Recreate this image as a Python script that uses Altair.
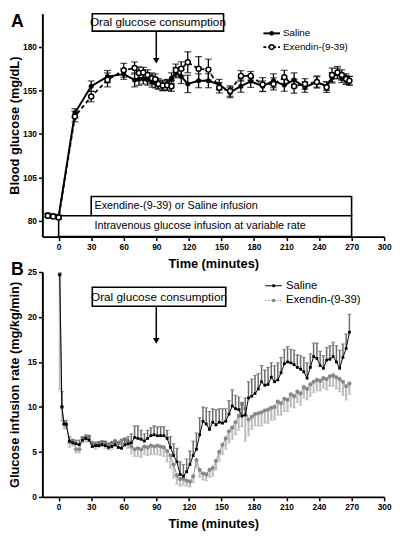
import altair as alt
import pandas as pd

FONT = "Liberation Sans"

# ---------------- Panel A: blood glucose ----------------
a_time = [-10, -5, 0, 15, 30, 45, 60, 70, 74, 78, 82, 86, 89, 92, 96, 100, 104, 108, 113, 119,
          129, 138, 148, 158, 168, 177, 188, 198, 208, 217, 227, 238, 247, 252, 257, 261, 265, 268]
a_saline = [83.5, 83, 82.5, 142, 157.4, 162.9, 164.3, 161, 161.4, 161.6, 161, 159.8, 159.4, 158.3,
            157.4, 158.3, 162, 165.2, 162.9, 158.7, 160.5, 160.5, 158.3, 153.8, 157.4, 160.2, 157.4,
            160.5, 158, 161, 156.8, 159.8, 157.4, 162.2, 164.7, 162, 161, 160.5]
a_saline_sem = [1, 1, 1, 2.5, 3, 3.5, 3, 4, 3.5, 3, 3, 3, 3, 2.5, 2.5, 3, 3, 3, 4, 5, 4, 4, 3, 3,
                3.5, 3.5, 3, 4, 3.5, 4, 3, 3.5, 2.5, 3, 3, 2.5, 2.5, 2.5]
a_exendin = [83, 82.5, 82, 140, 151.4, 161, 166.5, 167.8, 165, 165.2, 163.8, 162, 161.4, 158.7,
             157.8, 157.9, 157.4, 166.6, 167.4, 171.1, 167.4, 166.9, 156.5, 154.6, 163.3, 163.3,
             158.3, 158.7, 162.5, 157.4, 158.7, 159.8, 156.8, 163.8, 165.2, 163.8, 161.5, 160.5]
a_exendin_sem = [1, 1, 1, 3, 3, 4, 4, 3.5, 3.5, 3, 3, 3, 3, 3, 3, 3, 3, 3.5, 4, 6, 7, 6, 3, 3, 3,
                 2.5, 4, 3.5, 4, 4, 3, 3, 3, 4, 3.5, 3, 3, 2.5]

# annotation boxes of panel A (data units)
a_box_labels = ["Exendine-(9-39) or Saline infusion", "Intravenous glucose infusion at variable rate"]
a_box_start = [30, 0]
a_box_end = [270, 270]
a_box_low = [83, 71]
a_box_high = [94, 83]
a_box_text_x = [33, 33]
a_box_text_y = [88.5, 77]

# ---------------- Panel B: glucose infusion rate ----------------
b_time = [1, 3, 5, 7, 10, 13, 16, 19, 22, 25,
          28, 31, 34, 37, 40, 43, 46, 49, 52, 55,
          58, 61, 64, 67, 70, 73, 76, 79, 82, 85,
          88, 91, 94, 97, 100, 103, 106, 109, 112, 115,
          118, 121, 124, 127, 130, 133, 136, 139, 142, 145,
          148, 151, 154, 157, 160, 163, 166, 169, 172, 175,
          178, 181, 184, 187, 190, 193, 196, 199, 202, 205,
          208, 211, 214, 217, 220, 223, 226, 229, 232, 235,
          238, 241, 244, 247, 250, 253, 256, 259, 262, 265,
          268]
b_saline = [24.7, 10.0, 8.1, 8.1, 6.2, 6.0, 5.9, 5.8, 6.3, 6.5,
            6.3, 5.6, 5.7, 5.7, 5.8, 5.7, 5.5, 5.6, 5.8, 5.5,
            5.4, 5.8, 5.9, 6.0, 6.6, 6.5, 6.4, 6.2, 6.5, 6.8,
            6.9, 6.8, 6.8, 6.8, 6.5, 5.5, 4.6, 3.9, 2.5, 2.3,
            2.8, 3.6, 4.6, 5.3, 6.9, 8.4, 8.1, 7.5, 8.3, 8.0,
            8.3, 8.2, 8.4, 9.2, 10.1, 9.8, 9.7, 9.0, 9.1, 11.0,
            11.2, 11.5, 12.0, 12.8, 12.4, 12.5, 13.3, 12.8, 13.0, 13.8,
            14.8, 15.0, 14.9, 14.7, 14.4, 14.2, 13.9, 13.2, 14.4, 15.6,
            15.4, 14.6, 14.3, 15.2, 15.3, 15.6, 15.0, 14.3, 15.5, 16.5,
            18.3]
b_saline_sem = [0.2, 1.7, 0.4, 0.4, 0.5, 0.4, 0.4, 0.5, 0.4, 0.4,
                0.5, 0.4, 0.4, 0.4, 0.4, 0.5, 0.5, 0.5, 0.5, 0.6,
                0.6, 0.7, 0.8, 1.0, 1.3, 1.4, 1.0, 0.8, 0.9, 0.9,
                1.0, 1.0, 1.0, 1.0, 0.9, 1.2, 1.3, 1.5, 1.4, 1.3,
                1.4, 1.5, 1.6, 1.8, 1.9, 1.6, 1.8, 2.0, 1.5, 1.7,
                1.5, 1.6, 1.4, 1.5, 1.8, 1.5, 1.4, 1.5, 1.9, 1.8,
                1.9, 2.0, 1.7, 1.8, 1.7, 1.9, 1.6, 1.8, 1.9, 1.7,
                1.6, 1.7, 1.5, 1.6, 1.4, 1.5, 1.6, 1.7, 1.5, 1.5,
                1.7, 1.6, 1.4, 1.4, 1.5, 1.6, 1.8, 2.0, 1.5, 1.6,
                2.0]
b_exendin = [24.7, 10.0, 8.1, 8.0, 6.1, 6.2, 5.3, 5.3, 6.5, 6.6,
             6.7, 6.0, 5.8, 6.0, 6.1, 6.0, 5.8, 6.0, 6.2, 6.0,
             6.3, 6.4, 6.2, 5.6, 5.3, 5.4, 5.3, 5.6, 5.5, 5.7,
             5.6, 5.7, 5.6, 5.5, 5.1, 4.6, 3.6, 2.4, 2.0, 2.0,
             1.8, 1.7, 2.3, 4.1, 3.0, 2.6, 2.5, 3.0, 3.2, 4.0,
             5.0, 5.8, 6.5, 7.3, 7.7, 8.3, 9.0, 10.3, 9.8, 8.6,
             8.9, 9.2, 9.3, 9.4, 9.6, 9.7, 9.9, 10.0, 10.6, 10.4,
             10.9, 10.8, 11.4, 11.2, 11.7, 11.5, 12.2, 12.0, 12.5, 12.8,
             13.0, 12.9, 13.2, 13.1, 13.4, 13.5, 13.3, 13.1, 12.8, 12.3,
             12.6]
b_exendin_sem = [12.8, 1.6, 0.5, 0.5, 0.6, 0.5, 0.4, 0.4, 0.5, 0.5,
                 0.5, 0.5, 0.5, 0.5, 0.5, 0.6, 0.6, 0.7, 0.6, 0.6,
                 0.7, 0.8, 0.8, 0.8, 0.8, 0.9, 0.9, 0.9, 0.9, 1.0,
                 0.9, 1.0, 1.0, 1.0, 1.2, 1.4, 1.5, 1.0, 0.8, 0.7,
                 0.6, 0.6, 0.7, 0.9, 0.8, 0.7, 0.7, 0.8, 0.9, 1.0,
                 1.0, 1.1, 1.2, 1.3, 1.3, 1.4, 1.6, 2.5, 3.6, 1.8,
                 1.4, 1.3, 1.4, 1.5, 1.4, 1.5, 1.4, 1.4, 1.5, 1.3,
                 1.4, 1.3, 1.4, 1.3, 1.2, 1.3, 1.2, 1.2, 1.3, 1.2,
                 1.2, 1.1, 1.1, 1.2, 1.1, 1.2, 1.3, 1.4, 1.5, 1.5,
                 1.2]

# oral glucose annotation (data units): box x-range, box y-range per panel, arrow
oral_label = "Oral glucose consumption"
oral_x = [31, 152]
oral_text_x = 91.5
a_oral_y = [189, 199]
a_arrow_y = [189, 172]
b_oral_x = [31, 154]
b_oral_y = [21.2, 23.3]
b_arrow_y = [21.2, 17.35]
oral_time = 90

x_ticks = [0, 30, 60, 90, 120, 150, 180, 210, 240, 270, 300]
a_ticks = [80, 105, 130, 155, 180]
b_ticks = [0, 5, 10, 15, 20, 25]

W = 348
HA = 227
HB = 229

# ---------------- helpers ----------------
x_scale = alt.Scale(domain=[-15, 300], nice=False, zero=False)
x_axis = alt.Axis(values=x_ticks, title="Time (minutes)", labelFlush=False, titlePadding=7)


def X(field):
    return alt.X(field, type="quantitative", scale=x_scale, axis=x_axis)


def make_Y(domain, ticks, title):
    sc = alt.Scale(domain=domain, nice=False, zero=False)
    ax = alt.Axis(values=ticks, title=title, titleX=-21, labelFlush=False)

    def Y(field):
        return alt.Y(field, type="quantitative", scale=sc, axis=ax)
    return Y


YA = make_Y([71, 199], a_ticks, "Blood glucose (mg/dL)")
YB = make_Y([0, 25], b_ticks, "Glucose infusion rate (mg/kg/min)")

one = pd.DataFrame({"k": [0]})


def series_df(t, v, e):
    return pd.DataFrame({"t": t, "v": v,
                         "lo": [a - b for a, b in zip(v, e)],
                         "hi": [a + b for a, b in zip(v, e)]})


# ---------------- Panel A ----------------
dA_s = series_df(a_time, a_saline, a_saline_sem)
dA_e = series_df(a_time, a_exendin, a_exendin_sem)
d_boxes = pd.DataFrame({"x1": a_box_start, "x2": a_box_end, "y1": a_box_low, "y2": a_box_high,
                        "tx": a_box_text_x, "ty": a_box_text_y, "label": a_box_labels})
d_oralA = pd.DataFrame({"x1": [oral_x[0]], "x2": [oral_x[1]], "y1": [a_oral_y[0]], "y2": [a_oral_y[1]],
                        "tx": [oral_text_x], "ty": [(a_oral_y[0] + a_oral_y[1]) / 2],
                        "label": [oral_label], "ax": [oral_time],
                        "ay1": [a_arrow_y[0]], "ay2": [a_arrow_y[1]]})

boxesA = alt.Chart(d_boxes).mark_rect(fill="white", stroke="black", strokeWidth=1.6).encode(
    x=X("x1"), x2="x2", y=YA("y1"), y2="y2")
boxtextA = alt.Chart(d_boxes).mark_text(align="left", baseline="middle", fontSize=11, font=FONT,
                                        color="black").encode(x=X("tx"), y=YA("ty"), text="label")
oralboxA = alt.Chart(d_oralA).mark_rect(fill="white", stroke="black", strokeWidth=1.6).encode(
    x=X("x1"), x2="x2", y=YA("y1"), y2="y2")
oraltextA = alt.Chart(d_oralA).mark_text(align="center", baseline="middle", fontSize=12, font=FONT,
                                         color="black").encode(x=X("tx"), y=YA("ty"), text="label")
arrowA = alt.Chart(d_oralA).mark_rule(color="black", strokeWidth=1.5).encode(
    x=X("ax"), y=YA("ay1"), y2="ay2")
headA = alt.Chart(d_oralA).mark_point(shape="triangle-down", filled=True, color="black", size=45,
                                      opacity=1).encode(x=X("ax"), y=YA("ay2"))


def err_layers(df, Y, color, width, cap, which=("lo", "hi")):
    lo, hi = which
    bar = alt.Chart(df).mark_rule(color=color, strokeWidth=width).encode(x=X("t"), y=Y(lo), y2=hi)
    caps = []
    for f in which:
        if f == "v":
            continue
        caps.append(alt.Chart(df).mark_tick(orient="horizontal", size=cap, thickness=1.2,
                                            color=color).encode(x=X("t"), y=Y(f)))
    return [bar] + caps


errA_s = err_layers(dA_s, YA, "black", 1.3, 7)
errA_e = err_layers(dA_e, YA, "black", 1.3, 7)
lineA_s = alt.Chart(dA_s).mark_line(color="black", strokeWidth=2).encode(x=X("t"), y=YA("v"))
ptsA_s = alt.Chart(dA_s).mark_point(filled=True, color="black", size=26, opacity=1).encode(
    x=X("t"), y=YA("v"))
lineA_e = alt.Chart(dA_e).mark_line(color="black", strokeWidth=1.8, strokeDash=[4, 3]).encode(
    x=X("t"), y=YA("v"))
ptsA_e = alt.Chart(dA_e).mark_point(filled=True, fill="white", stroke="black", strokeWidth=1.5,
                                    size=26, opacity=1).encode(x=X("t"), y=YA("v"))

# legend A
legA = [
    alt.Chart(one).mark_rule(color="black", strokeWidth=2).encode(
        x=alt.value(225), x2=alt.value(242), y=alt.value(20)),
    alt.Chart(one).mark_point(filled=True, color="black", size=22, opacity=1).encode(
        x=alt.value(233.5), y=alt.value(20)),
    alt.Chart(one).mark_text(align="left", baseline="middle", fontSize=10, font=FONT, color="black").encode(
        x=alt.value(245), y=alt.value(20), text=alt.value("Saline")),
    alt.Chart(one).mark_rule(color="black", strokeWidth=1.8, strokeDash=[3, 2]).encode(
        x=alt.value(225), x2=alt.value(242), y=alt.value(34)),
    alt.Chart(one).mark_point(filled=True, fill="white", stroke="black", strokeWidth=1.5, size=22,
                              opacity=1).encode(x=alt.value(233.5), y=alt.value(34)),
    alt.Chart(one).mark_text(align="left", baseline="middle", fontSize=10, font=FONT, color="black").encode(
        x=alt.value(245), y=alt.value(34), text=alt.value("Exendin-(9-39)")),
    alt.Chart(one).mark_text(align="left", baseline="top", fontSize=18, fontWeight="bold", font=FONT,
                             color="black").encode(x=alt.value(-32), y=alt.value(0), text=alt.value("A")),
]

panelA = alt.layer(
    boxesA, boxtextA, oralboxA, oraltextA, arrowA, headA,
    *errA_s, lineA_s, ptsA_s, *errA_e, lineA_e, ptsA_e, *legA
).properties(width=W, height=HA)

# ---------------- Panel B ----------------
dB_s = series_df(b_time, b_saline, b_saline_sem)
dB_e = series_df(b_time, b_exendin, b_exendin_sem)
d_oralB = pd.DataFrame({"x1": [b_oral_x[0]], "x2": [b_oral_x[1]], "y1": [b_oral_y[0]], "y2": [b_oral_y[1]],
                        "tx": [oral_text_x + 1], "ty": [(b_oral_y[0] + b_oral_y[1]) / 2],
                        "label": [oral_label], "ax": [oral_time],
                        "ay1": [b_arrow_y[0]], "ay2": [b_arrow_y[1]]})

oralboxB = alt.Chart(d_oralB).mark_rect(fill="white", stroke="black", strokeWidth=1.6).encode(
    x=X("x1"), x2="x2", y=YB("y1"), y2="y2")
oraltextB = alt.Chart(d_oralB).mark_text(align="center", baseline="middle", fontSize=12, font=FONT,
                                         color="black").encode(x=X("tx"), y=YB("ty"), text="label")
arrowB = alt.Chart(d_oralB).mark_rule(color="black", strokeWidth=1.5).encode(
    x=X("ax"), y=YB("ay1"), y2="ay2")
headB = alt.Chart(d_oralB).mark_point(shape="triangle-down", filled=True, color="black", size=45,
                                      opacity=1).encode(x=X("ax"), y=YB("ay2"))

errB_e = err_layers(dB_e, YB, "#bcbcbc", 2, 4, which=("lo", "v"))
errB_s = err_layers(dB_s, YB, "#6a6a6a", 1.5, 4, which=("v", "hi"))
lineB_e = alt.Chart(dB_e).mark_line(color="#9a9a9a", strokeWidth=1).encode(x=X("t"), y=YB("v"))
ptsB_e = alt.Chart(dB_e).mark_point(filled=True, shape="circle", color="#888888", size=18,
                                    opacity=1).encode(x=X("t"), y=YB("v"))
lineB_s = alt.Chart(dB_s).mark_line(color="black", strokeWidth=1).encode(x=X("t"), y=YB("v"))
ptsB_s = alt.Chart(dB_s).mark_point(filled=True, shape="square", color="black", size=8,
                                    opacity=1).encode(x=X("t"), y=YB("v"))

legB = [
    alt.Chart(one).mark_rule(color="black", strokeWidth=1).encode(
        x=alt.value(227), x2=alt.value(244), y=alt.value(14)),
    alt.Chart(one).mark_point(filled=True, shape="square", color="black", size=8, opacity=1).encode(
        x=alt.value(235.5), y=alt.value(14)),
    alt.Chart(one).mark_text(align="left", baseline="middle", fontSize=11.5, font=FONT, color="black").encode(
        x=alt.value(248), y=alt.value(14), text=alt.value("Saline")),
    alt.Chart(one).mark_rule(color="#9a9a9a", strokeWidth=1, strokeDash=[1.5, 1.5]).encode(
        x=alt.value(227), x2=alt.value(244), y=alt.value(29)),
    alt.Chart(one).mark_point(filled=True, shape="circle", color="#888888", size=14, opacity=1).encode(
        x=alt.value(235.5), y=alt.value(29)),
    alt.Chart(one).mark_text(align="left", baseline="middle", fontSize=11.5, font=FONT, color="black").encode(
        x=alt.value(248), y=alt.value(29), text=alt.value("Exendin-(9-39)")),
    alt.Chart(one).mark_text(align="left", baseline="top", fontSize=18, fontWeight="bold", font=FONT,
                             color="black").encode(x=alt.value(-32), y=alt.value(-11), text=alt.value("B")),
]

panelB = alt.layer(
    oralboxB, oraltextB, arrowB, headB,
    *errB_e, lineB_e, ptsB_e, *errB_s, lineB_s, ptsB_s, *legB
).properties(width=W, height=HB)

chart = alt.vconcat(panelA, panelB, spacing=36, bounds="flush").properties(
    padding=0
).configure_view(stroke=None).configure_axis(
    grid=False,
    domainColor="black", domainWidth=2,
    tickColor="black", tickWidth=1.5, tickSize=4,
    labelFont=FONT, labelFontSize=8.5, labelFontWeight="bold", labelColor="black", labelPadding=2,
    titleFont=FONT, titleFontSize=13, titleFontWeight="bold", titleColor="black",
)

chart.save("out.html", embed_options={"renderer": "svg", "actions": False})
